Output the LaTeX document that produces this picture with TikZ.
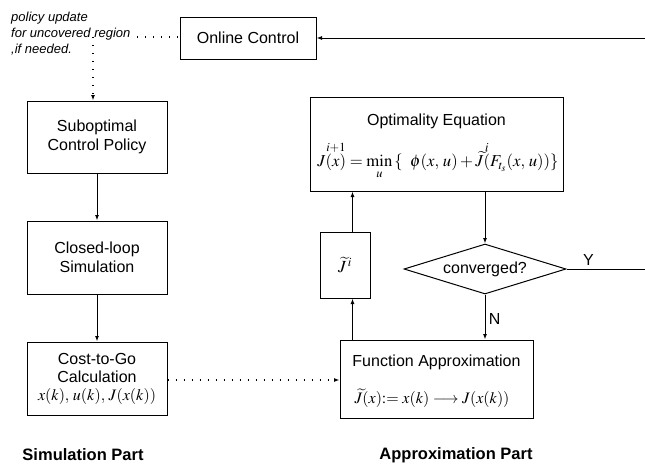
\documentclass[tikz,border=0pt]{standalone}
\usepackage{amsmath}
\usepackage{mathptmx}
\usepackage[no-math]{fontspec}
\setmainfont{Liberation Sans}
\usetikzlibrary{arrows.meta,shapes.geometric}

\tikzset{
  box/.style={draw, line width=1pt, align=center, inner sep=2pt,
    font=\fontsize{16}{19}\selectfont},
  flow/.style={line width=1pt, -{Latex[length=5.5pt,width=4pt]}},
  dotline/.style={line width=1.2pt, dash pattern=on 1.2pt off 6.8pt},
  dotflow/.style={dotline, -{Latex[length=5.5pt,width=4pt]}},
  partlabel/.style={font=\fontsize{16.5}{19}\selectfont\bfseries},
  note/.style={align=left, font=\fontsize{13}{16}\selectfont\itshape},
  tag/.style={font=\fontsize{16}{19}\selectfont}
}

\begin{document}
\begin{tikzpicture}[x=1pt, y=-1pt]
  \useasboundingbox (0,0) rectangle (645,469);

  % simulation column
  \node[box, minimum width=140pt, minimum height=72pt] (sub) at (97,137)
    {Suboptimal\\Control Policy};
  \node[box, minimum width=140pt, minimum height=73pt] (closed) at (97,257.5)
    {Closed-loop\\Simulation};
  \node[box, minimum width=140pt, minimum height=73pt, font=\fontsize{16}{18}\selectfont] (cost) at (97,378.5)
    {Cost-to-Go\\Calculation\\$x(k),\, u(k),\, J(x(k))$};

  % online control and note
  \node[box, minimum width=136pt, minimum height=42pt] (online) at (248,38) {Online Control};
  \node[note, anchor=north west, inner sep=0pt] (notetext) at (11,12)
    {policy update\\for uncovered region\\,if needed.};
  \coordinate (noteend) at (137,37);
  \coordinate (notecorner) at (93,37);
  \coordinate (rin) at (645,38);

  % approximation column
  \node[box, minimum width=253pt, minimum height=94pt] (opt) at (436.5,144) {};
  \node[tag] (opttitle) at (436.5,121) {Optimality Equation};
  \node[font=\fontsize{16.7}{19}\selectfont] (opteq) at (438,160)
    {$J\overset{i+1}{(x)} = \displaystyle\min_{u}\,\{\;\; \phi(x,\,u) + \widetilde{J}\overset{i}{(}F_{t_s}(x,\,u))\}$};

  \node[draw, line width=1pt, shape=diamond, aspect=3.24, minimum width=162pt,
        minimum height=50pt, inner sep=0pt, font=\fontsize{16}{19}\selectfont] (conv) at (485,269) {converged?};
  \coordinate (yout) at (645,269);

  \node[box, minimum width=50pt, minimum height=66pt, font=\fontsize{17}{19}\selectfont] (jt) at (345,265)
    {$\widetilde{J}^{\,i}$};

  \node[box, minimum width=193pt, minimum height=78pt] (fa) at (436.5,379) {};
  \node[tag] (fatitle) at (436.5,362) {Function Approximation};
  \node[font=\fontsize{16}{19}\selectfont] (faeq) at (432,398)
    {$\widetilde{J}(x){:=}\;x(k) \longrightarrow J(x(k))$};

  \coordinate (ax) at (352.5,0);

  % connectors
  \draw[flow] (sub.south) -- (closed.north);
  \draw[flow] (closed.south) -- (cost.north);
  \draw[dotflow] (cost.east |- 0,380) -- (fa.west |- 0,380);
  \draw[flow] (rin) -- (online.east);
  \draw[dotline] (noteend) -- (online.west |- noteend);
  \draw[dotflow] (notecorner) -- (sub.north -| notecorner);
  \draw[flow] (opt.south -| conv.north) -- (conv.north);
  \draw[line width=1pt] (conv.east) -- node[tag, above, pos=0.28] (ylab) {Y} (yout);
  \draw[flow] (conv.south) -- node[tag, right, pos=0.55] (nlab) {N} (fa.north -| conv.south);
  \draw[flow] (fa.north -| ax) -- (jt.south -| ax);
  \draw[flow] (jt.north -| ax) -- (opt.south -| ax);

  % part labels
  \node[partlabel] (simpart) at (83,455) {Simulation Part};
  \node[partlabel] (apppart) at (456,455) {Approximation Part};
\end{tikzpicture}
\end{document}
